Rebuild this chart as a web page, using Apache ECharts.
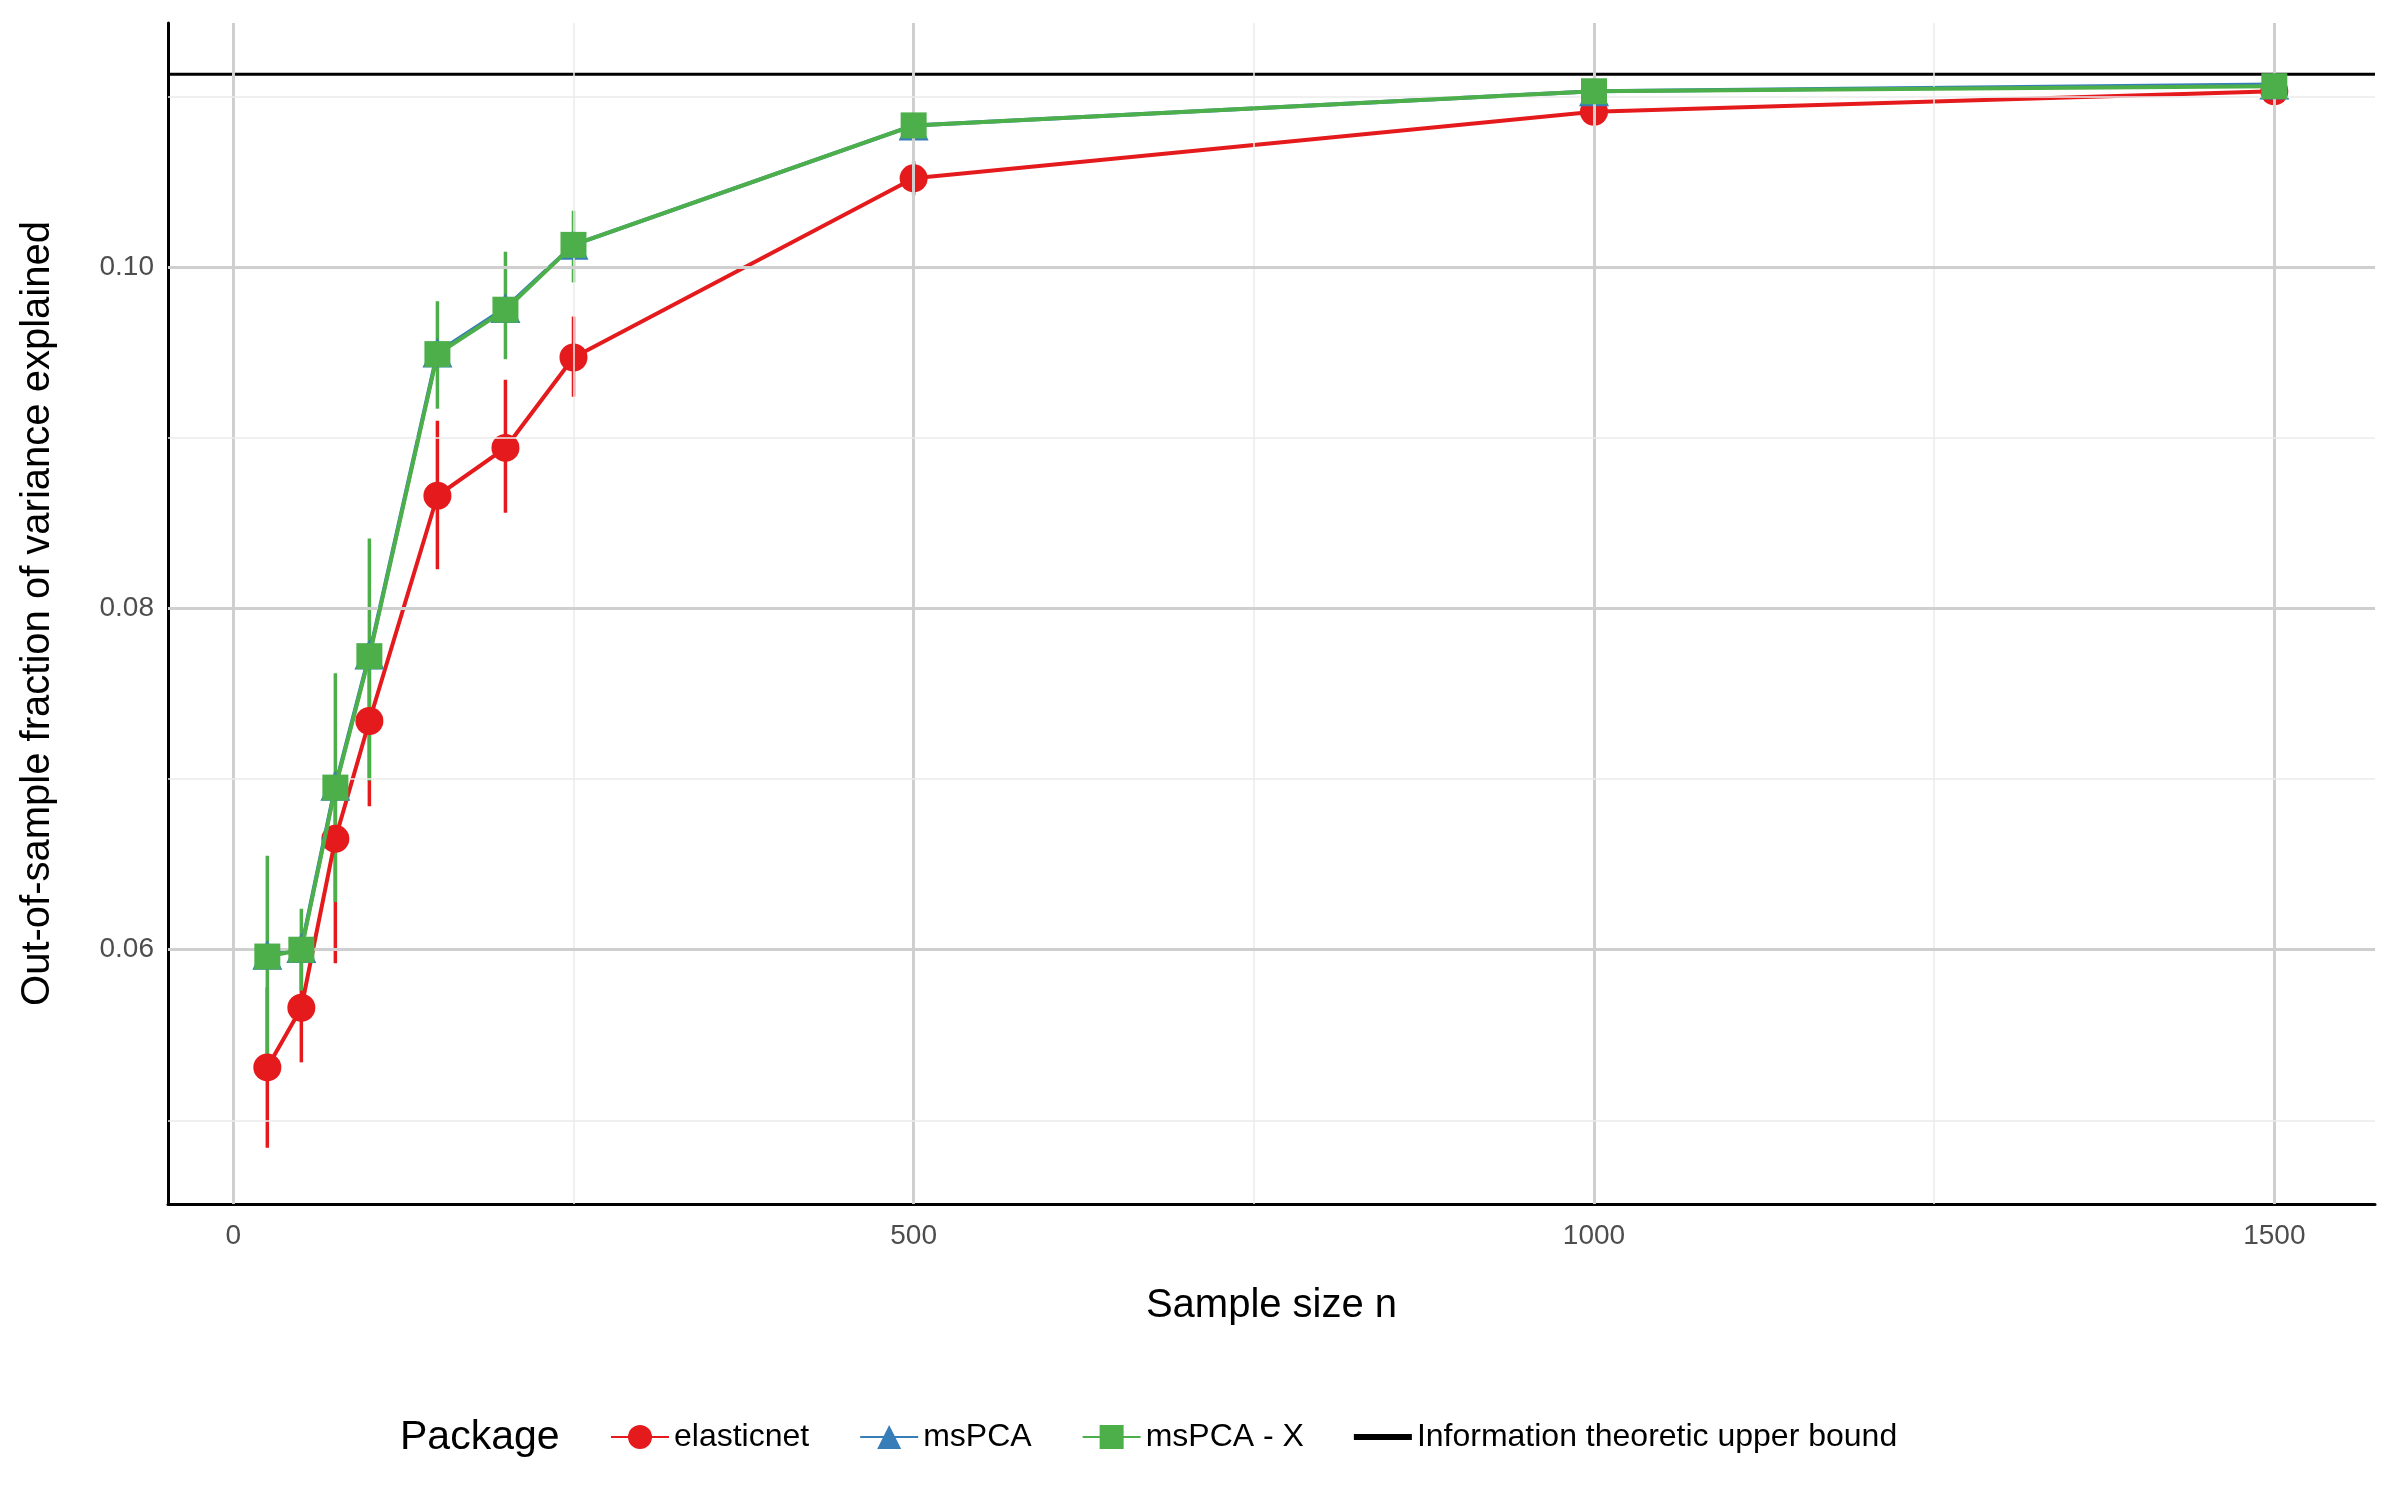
<!DOCTYPE html>
<html><head><meta charset="utf-8">
<script src="https://cdn.jsdelivr.net/npm/echarts@6/dist/echarts.min.js"></script>
<style>html,body{margin:0;padding:0;background:#fff}#c{width:2400px;height:1500px}</style>
</head><body><div id="c"></div>
<script>
const sampleSizes = [25,50,75,100,150,200,250,500,1000,1500];
const elasticnet = [0.0531,0.0566,0.0665,0.0734,0.0866,0.0894,0.0947,0.1052,0.1091,0.1103];
const elasticnetLo = [0.0484,0.0534,0.0592,0.0684,0.0823,0.0856,0.0924,0.1042,0.1087,0.1099];
const elasticnetHi = [0.0578,0.0599,0.0704,0.0780,0.0910,0.0934,0.0971,0.1062,0.1095,0.1107];
const msPCA = [0.0597,0.0601,0.0696,0.0773,0.0950,0.0976,0.1013,0.1083,0.1103,0.1107];
const msPCAX = [0.0596,0.0600,0.0695,0.0772,0.0949,0.0975,0.1013,0.1083,0.1103,0.1106];
const msPCAXLo = [0.0538,0.0576,0.0628,0.0699,0.0917,0.0946,0.0991,0.1079,0.1100,0.1103];
const msPCAXHi = [0.0655,0.0624,0.0762,0.0841,0.0980,0.1009,0.1033,0.1087,0.1106,0.1109];
const upperBound = 0.1113;
const xTicks = [0,500,1000,1500];
const xMinor = [250,750,1250];
const yTicks = [0.06,0.08,0.10];
const yMinor = [0.05,0.07,0.09,0.11];
const XMIN=-48, XMAX=1574, YMIN=0.0451, YMAX=0.1143;

const RED='#E41A1C', BLUE='#377EB8', GREEN='#4DAF4A';
const FONT='Liberation Sans, Arial, sans-serif';
const pts = ys => sampleSizes.map((x,i)=>[x,ys[i]]);
function errSeries(name,lo,hi,color){
  return {name, type:'custom', z:2,
    data: sampleSizes.map((x,i)=>[x,lo[i],hi[i]]),
    renderItem:(p,api)=>{const a=api.coord([api.value(0),api.value(1)]),b=api.coord([api.value(0),api.value(2)]);
      return {type:'line',shape:{x1:a[0],y1:a[1],x2:b[0],y2:b[1]},style:{stroke:color,lineWidth:3.5}};}};
}
const gridLines = [];
xTicks.forEach(v=>gridLines.push({xAxis:v,lineStyle:{color:'#cfcfcf',width:3,type:'solid'}}));
xMinor.forEach(v=>gridLines.push({xAxis:v,lineStyle:{color:'#ebebeb',width:1.5,type:'solid'}}));
yTicks.forEach(v=>gridLines.push({yAxis:v,lineStyle:{color:'#cfcfcf',width:3,type:'solid'}}));
yMinor.forEach(v=>gridLines.push({yAxis:v,lineStyle:{color:'#ebebeb',width:1.5,type:'solid'}}));

const chart = echarts.init(document.getElementById('c'));
chart.setOption({
  animation:false,
  textStyle:{fontFamily:FONT},
  grid:{left:168,right:25,top:23,bottom:296},
  xAxis:{type:'value',min:XMIN,max:XMAX,name:'Sample size n',nameLocation:'middle',nameGap:82,
    nameTextStyle:{fontSize:40,color:'#000'},
    axisLine:{show:true,onZero:false,lineStyle:{color:'#000',width:3}},
    axisTick:{show:false},splitLine:{show:false},
    axisLabel:{customValues:xTicks,fontSize:28,color:'#4d4d4d',margin:18,formatter:v=>String(v)}},
  yAxis:{type:'value',min:YMIN,max:YMAX,name:'Out-of-sample fraction of variance explained',nameLocation:'middle',nameGap:110,
    nameTextStyle:{fontSize:40,color:'#000'},
    axisLine:{show:true,onZero:false,lineStyle:{color:'#000',width:3}},
    axisTick:{show:false},splitLine:{show:false},
    axisLabel:{customValues:yTicks,fontSize:28,color:'#4d4d4d',margin:14,formatter:v=>v.toFixed(2)}},
  legend:{bottom:42,left:605,itemWidth:58,itemHeight:30,itemGap:50,
    textStyle:{fontSize:32,color:'#000'},
    data:['elasticnet','msPCA','msPCA - X',{name:'Information theoretic upper bound',icon:'path://M0,0L10,0L10,1L0,1Z',itemStyle:{color:'#000'}}]},
  graphic:[{type:'text',left:400,bottom:42,style:{text:'Package',fontSize:41,fill:'#000',fontFamily:FONT}}],
  series:[
    {name:'grid',type:'line',data:[],silent:true,z:0,markLine:{silent:true,symbol:'none',label:{show:false},data:gridLines}},
    {name:'Information theoretic upper bound',type:'line',data:[[XMIN,upperBound],[XMAX,upperBound]],showSymbol:false,symbol:'none',
      lineStyle:{color:'#000',width:3},itemStyle:{color:'#000'},z:1},
    errSeries('elasticnet-err',elasticnetLo,elasticnetHi,RED),
    {name:'elasticnet',type:'line',data:pts(elasticnet),symbol:'circle',symbolSize:28,
      lineStyle:{color:RED,width:4},itemStyle:{color:RED},z:3},
    {name:'msPCA',type:'line',data:pts(msPCA),symbol:'triangle',symbolSize:30,
      lineStyle:{color:BLUE,width:4},itemStyle:{color:BLUE},z:4},
    errSeries('msPCAX-err',msPCAXLo,msPCAXHi,GREEN),
    {name:'msPCA - X',type:'line',data:pts(msPCAX),symbol:'rect',symbolSize:26,
      lineStyle:{color:GREEN,width:4},itemStyle:{color:GREEN},z:5}
  ]
});
</script></body></html>
